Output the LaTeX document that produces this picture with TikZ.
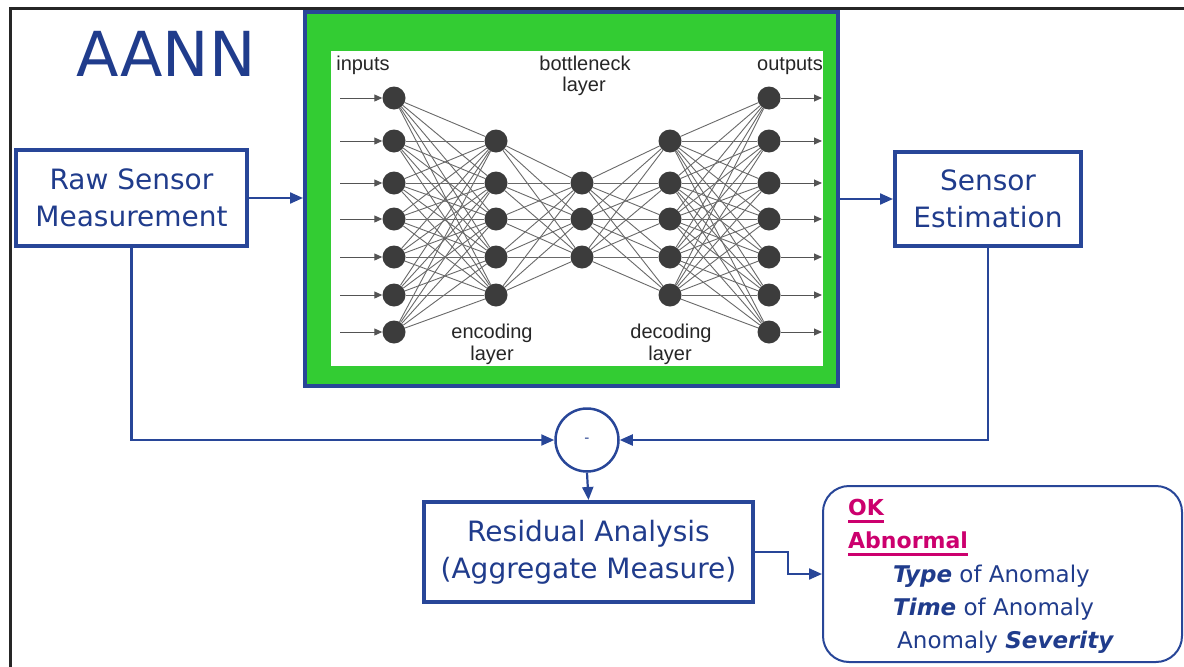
\documentclass[tikz,border=0pt]{standalone}
\usepackage{fontspec}
\setmainfont{DejaVu Sans}
\newfontfamily\nnfont{Liberation Sans}
\usetikzlibrary{arrows.meta,calc}

\definecolor{diagblue}{RGB}{40,70,152}
\definecolor{textblue}{RGB}{32,60,140}
\definecolor{netgreen}{RGB}{51,204,51}
\definecolor{flagpink}{RGB}{204,0,110}
\definecolor{neurongray}{RGB}{60,60,60}
\definecolor{edgegray}{RGB}{105,105,105}

\pgfdeclarelayer{front}
\pgfsetlayers{main,front}

\begin{document}
\begin{tikzpicture}[x=1pt,y=-1pt,
  blockbox/.style={draw=diagblue, line width=4pt, fill=white, text=textblue,
    align=center, font=\fontsize{28}{37}\selectfont, inner sep=0pt},
  conn/.style={draw=diagblue, line width=2.2pt, -{Triangle[length=13pt,width=11pt]}},
  neuronnode/.style={circle, fill=neurongray, minimum size=23pt, inner sep=0pt},
  nnedge/.style={draw=edgegray, line width=0.9pt},
  nnarrow/.style={draw=edgegray!80!black, line width=1pt, -{Triangle[length=8pt,width=7pt]}},
  nnlabel/.style={anchor=base, inner sep=0pt, text=black!85,
    font=\nnfont\fontsize{20}{22}\selectfont},
  flag/.style={anchor=base west, inner sep=0pt, text=flagpink,
    font=\bfseries\fontsize{22}{24}\selectfont},
  detail/.style={anchor=base west, inner sep=0pt, text=textblue,
    font=\fontsize{23}{26}\selectfont}
]
\useasboundingbox (0,0) rectangle (1184,667);

% outer frame
\draw[black!85, line width=3pt] (10,667) -- (10,8) -- (1184,8);

% title
\node[anchor=base, inner sep=0pt, text=textblue, font=\fontsize{62}{70}\selectfont]
  (title) at (166,76) {AANN};

% autoassociative network panel
\node[draw=diagblue, line width=4pt, fill=netgreen, minimum width=533pt,
  minimum height=374pt, inner sep=0pt] (nn) at (571.5,199) {};
\fill[white] (331,51) rectangle (823,366);

% neurons
\begin{pgfonlayer}{front}
  \foreach \k/\yy in {1/98,2/141,3/183,4/219,5/257,6/295,7/332} {
    \node[neuronnode] (i\k) at (394,\yy) {};
    \node[neuronnode] (o\k) at (769,\yy) {};
  }
  \foreach \k/\yy in {1/141,2/183,3/219,4/257,5/295} {
    \node[neuronnode] (e\k) at (496,\yy) {};
    \node[neuronnode] (d\k) at (670,\yy) {};
  }
  \foreach \k/\yy in {1/183,2/219,3/257} {
    \node[neuronnode] (b\k) at (582,\yy) {};
  }
\end{pgfonlayer}

% fully connected weights
\foreach \a in {1,...,7} {
  \foreach \b in {1,...,5} {
    \draw[nnedge] (i\a) -- (e\b);
    \draw[nnedge] (d\b) -- (o\a);
  }
}
\foreach \a in {1,...,5} {
  \foreach \b in {1,2,3} {
    \draw[nnedge] (e\a) -- (b\b);
    \draw[nnedge] (b\b) -- (d\a);
  }
}

% input and output signals
\foreach \k/\yy in {1/98,2/141,3/183,4/219,5/257,6/295,7/332} {
  \coordinate (src\k) at (340,\yy);
  \coordinate (dst\k) at (822,\yy);
  \draw[nnarrow] (src\k) -- (i\k);
  \draw[nnarrow] (o\k) -- (dst\k);
}

% layer labels
\node[nnlabel] (lin) at (363,70) {inputs};
\node[nnlabel] (lbn1) at (585,70) {bottleneck};
\node[nnlabel] (lbn2) at (584,91) {layer};
\node[nnlabel] (lout) at (790,70) {outputs};
\node[nnlabel] (lenc1) at (492,338) {encoding};
\node[nnlabel] (lenc2) at (492,360) {layer};
\node[nnlabel] (ldec1) at (671,338) {decoding};
\node[nnlabel] (ldec2) at (670,360) {layer};

% processing blocks
\node[blockbox, minimum width=231pt, minimum height=96pt] (raw) at (131.5,198)
  {Raw Sensor\\Measurement};
\node[blockbox, minimum width=186pt, minimum height=94pt] (est) at (988,199)
  {Sensor\\Estimation};
\node[blockbox, minimum width=329pt, minimum height=100pt] (resid) at (588.5,552)
  {Residual Analysis\\(Aggregate Measure)};
\node[draw=diagblue, line width=2.5pt, circle, minimum size=63pt, inner sep=0pt,
  text=textblue, font=\fontsize{14}{14}\selectfont] (minus) at (587,440) {-};

% result panel
\node[draw=diagblue, line width=2pt, rounded corners=26pt, minimum width=359pt,
  minimum height=176pt, fill=white, inner sep=0pt] (result) at (1002.5,574) {};

\node[flag] (ok) at (848,515) {OK};
\draw[flagpink, line width=3pt] ($(ok.base west)+(0,6.5)$) -- ($(ok.base east)+(0,6.5)$);
\node[flag] (abn) at (848,548) {Abnormal};
\draw[flagpink, line width=3pt] ($(abn.base west)+(0,6.5)$) -- ($(abn.base east)+(0,6.5)$);
\node[detail] (l1) at (893,582) {\textbf{\textit{Type}} of Anomaly};
\node[detail] (l2) at (893,615) {\textbf{\textit{Time}} of Anomaly};
\node[detail] (l3) at (897,648) {Anomaly \textbf{\textit{Severity}}};

% signal flow
\draw[conn] (raw.east) -- (raw.east -| nn.west);
\draw[conn] (nn.east) -- (nn.east -| est.west);
\draw[conn] (raw.south) |- (minus.west);
\draw[conn] (est.south) |- (minus.east);
\draw[conn] (minus.south) -- (resid.north);
\draw[conn] (resid.east) -- ++(33,0) |- (result.west);
\end{tikzpicture}
\end{document}
